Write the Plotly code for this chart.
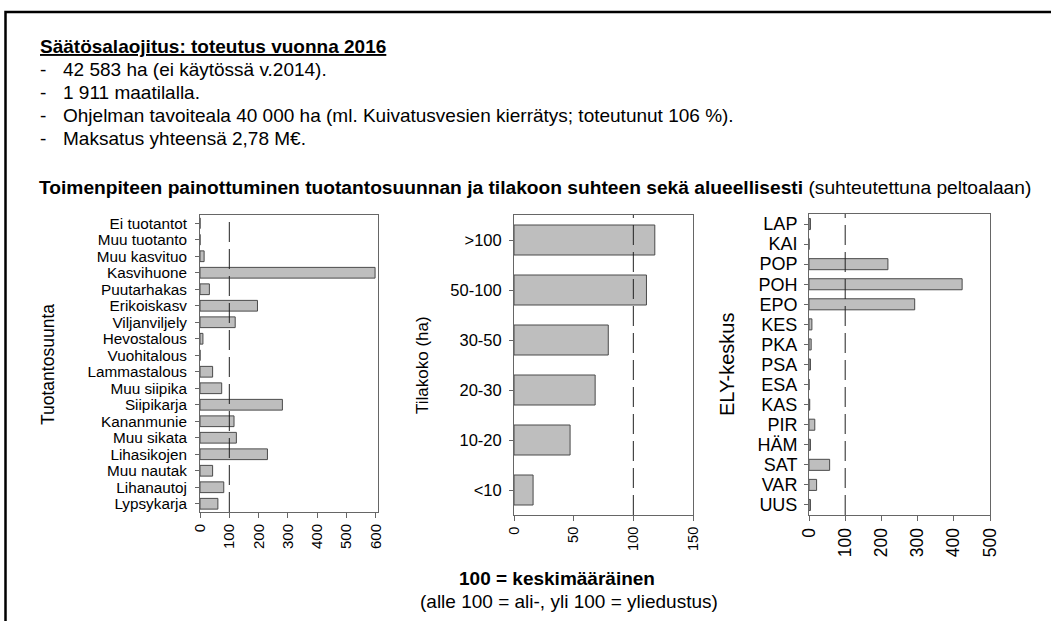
import plotly.graph_objects as go
from plotly.subplots import make_subplots

W, H = 1051, 621

# Tuotantosuunta (top to bottom as shown)
prod_labels = ["Ei tuotantot", "Muu tuotanto", "Muu kasvituo", "Kasvihuone", "Puutarhakas",
               "Erikoiskasv", "Viljanviljely", "Hevostalous", "Vuohitalous", "Lammastalous",
               "Muu siipika", "Siipikarja", "Kananmunie", "Muu sikata", "Lihasikojen",
               "Muu nautak", "Lihanautoj", "Lypsykarja"]
prod_values = [0, 0, 14, 597, 32, 196, 120, 10, 0, 43, 74, 281, 116, 124, 230, 43, 81, 61]

# Tilakoko (ha)
size_labels = [">100", "50-100", "30-50", "20-30", "10-20", "<10"]
size_values = [118, 111, 79, 68, 47, 16]

# ELY-keskus
ely_labels = ["LAP", "KAI", "POP", "POH", "EPO", "KES", "PKA", "PSA", "ESA", "KAS",
              "PIR", "HÄM", "SAT", "VAR", "UUS"]
ely_values = [4, 0, 218, 423, 292, 8, 6, 4, 0, 2, 16, 4, 57, 21, 4]

x_ticks_prod = [0, 100, 200, 300, 400, 500, 600]
x_ticks_size = [0, 50, 100, 150]
x_ticks_ely = [0, 100, 200, 300, 400, 500]

title_text = "Säätösalaojitus: toteutus vuonna 2016"
bullets = ["42 583 ha (ei käytössä v.2014).",
           "1 911 maatilalla.",
           "Ohjelman tavoiteala 40 000 ha (ml. Kuivatusvesien kierrätys; toteutunut 106 %).",
           "Maksatus yhteensä 2,78 M€."]

FONT = "Liberation Sans, Arial, sans-serif"
BAR_FILL = "#bebebe"
BAR_LINE = "#4a4a4a"
BOX = "#666666"
TXT = 19


def px_x(v):
    return v / W


def px_y(v):
    return 1 - v / H


fig = make_subplots(rows=1, cols=3)

panels = [
    # labels, values, xrange, ticks, domain x(px), domain y(px), tick font, xtick font, bar width, label gap
    (prod_labels, prod_values, [0, 607], x_ticks_prod, (200, 378), (215, 512), 15.3, 15, 0.65, 5),
    (size_labels, size_values, [0, 150], x_ticks_size, (514, 693), (215, 515), 16.5, 14.5, 0.6, 4),
    (ely_labels, ely_values, [0, 500], x_ticks_ely, (809, 990), (214, 515), 18, 17.5, 0.55, 3),
]

for i, (labs, vals, xr, ticks, dx, dy, fs, xfs, bw, gap) in enumerate(panels):
    col = i + 1
    fig.add_trace(go.Bar(
        x=vals, y=labs, orientation="h", width=bw,
        marker=dict(color=BAR_FILL, line=dict(color=BAR_LINE, width=1)),
        showlegend=False, hoverinfo="x+y"
    ), row=1, col=col)
    ax = "" if col == 1 else str(col)
    n = len(labs)
    fig.update_layout(**{
        "xaxis" + ax: dict(
            domain=[px_x(dx[0]), px_x(dx[1])], range=xr,
            tickmode="array", tickvals=ticks, automargin=False,
            tickangle=-90, ticks="outside", ticklen=5, tickcolor=BOX,
            showline=True, mirror=True, linecolor=BOX, linewidth=1,
            showgrid=False, zeroline=False,
            tickfont=dict(family=FONT, size=xfs, color="black")
        ),
        "yaxis" + ax: dict(
            domain=[px_y(dy[1]), px_y(dy[0])], type="category",
            categoryorder="array", categoryarray=labs,
            tickmode="array", tickvals=labs, automargin=False,
            range=[n - 0.5, -0.5], ticks="outside", ticklen=4, tickcolor=BOX,
            ticklabelstandoff=gap,
            showline=True, mirror=True, linecolor=BOX, linewidth=1,
            showgrid=False, zeroline=False,
            tickfont=dict(family=FONT, size=fs, color="black")
        ),
    })
    fig.add_shape(type="line", xref="x" + ax, yref="y" + ax + " domain",
                  x0=100, x1=100, y0=0, y1=1,
                  line=dict(color="#222222", width=1, dash="20px,7px"))

# axis titles
axis_titles = [("Tuotantosuunta", 48, 17.5), ("Tilakoko (ha)", 423, 17), ("ELY-keskus", 727, 20)]
for txt, xp, fs in axis_titles:
    fig.add_annotation(text=txt, x=px_x(xp), y=px_y(365), xref="paper", yref="paper",
                       textangle=-90, showarrow=False, xanchor="center", yanchor="middle",
                       font=dict(family=FONT, size=fs, color="black"))

# header texts
fig.add_annotation(text="<b><u>" + title_text + "</u></b>", x=px_x(38), y=px_y(46),
                   xref="paper", yref="paper", showarrow=False, xanchor="left", yanchor="middle",
                   font=dict(family=FONT, size=TXT, color="black"))
for k, b in enumerate(bullets):
    yy = px_y(69 + k * 23.3)
    fig.add_annotation(text="-", x=px_x(38), y=yy, xref="paper", yref="paper", showarrow=False,
                       xanchor="left", yanchor="middle", font=dict(family=FONT, size=TXT, color="black"))
    fig.add_annotation(text=b, x=px_x(61), y=yy, xref="paper", yref="paper", showarrow=False,
                       xanchor="left", yanchor="middle", font=dict(family=FONT, size=TXT, color="black"))

fig.add_annotation(
    text="<b>Toimenpiteen painottuminen tuotantosuunnan ja tilakoon suhteen sekä alueellisesti</b> (suhteutettuna peltoalaan)",
    x=px_x(37), y=px_y(187), xref="paper", yref="paper", showarrow=False,
    xanchor="left", yanchor="middle", font=dict(family=FONT, size=19.2, color="black"))

fig.add_annotation(text="<b>100 = keskimääräinen</b>", x=px_x(557), y=px_y(578),
                   xref="paper", yref="paper", showarrow=False, xanchor="center", yanchor="middle",
                   font=dict(family=FONT, size=TXT, color="black"))
fig.add_annotation(text="(alle 100 = ali-, yli 100 = yliedustus)", x=px_x(569), y=px_y(601),
                   xref="paper", yref="paper", showarrow=False, xanchor="center", yanchor="middle",
                   font=dict(family=FONT, size=TXT, color="black"))

# slide frame
fig.add_shape(type="path", xref="paper", yref="paper",
              path=f"M {px_x(5.5)} -0.01 L {px_x(5.5)} {px_y(12)} L 1.01 {px_y(12)}",
              line=dict(color="black", width=2.5))

fig.update_layout(
    width=W, height=H,
    margin=dict(l=0, r=0, t=0, b=0, autoexpand=False),
    plot_bgcolor="white", paper_bgcolor="white",
    font=dict(family=FONT, color="black"),
    showlegend=False
)

# drop the default page margin so the figure sits at the window's top-left corner
fig.write_html("out.html", config={"displayModeBar": False},
               post_script="document.body.style.margin='0';")
